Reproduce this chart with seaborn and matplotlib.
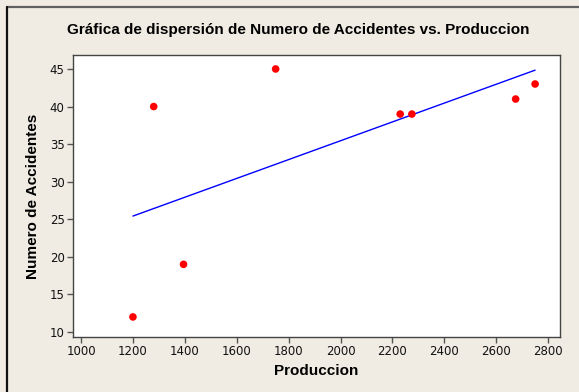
import matplotlib.pyplot as plt
import seaborn as sns
import pandas as pd
from matplotlib.lines import Line2D

produccion = [1200, 1280, 1395, 1750, 2230, 2275, 2675, 2750]
accidentes = [12, 40, 19, 45, 39, 39, 41, 43]
x_ticks = [1000, 1200, 1400, 1600, 1800, 2000, 2200, 2400, 2600, 2800]
y_ticks = [10, 15, 20, 25, 30, 35, 40, 45]

df = pd.DataFrame({'Produccion': produccion, 'Numero de Accidentes': accidentes})

sns.set_theme(style="ticks")
plt.rcParams['font.family'] = ['DejaVu Sans']
plt.rcParams['text.color'] = 'black'
plt.rcParams['axes.labelcolor'] = 'black'

bg = '#F0ECE3'
lab_font = ['Liberation Sans', 'DejaVu Sans']
fig = plt.figure(figsize=(5.79, 3.92), dpi=100, facecolor=bg)
ax = fig.add_axes([0.1261, 0.1403, 0.8411, 0.7194])
ax.set_facecolor('white')

# fitted line, then the points on top
sns.regplot(data=df, x='Produccion', y='Numero de Accidentes', ax=ax, scatter=False,
            ci=None, line_kws=dict(color='#0000FF', lw=1.0))
sns.scatterplot(data=df, x='Produccion', y='Numero de Accidentes', ax=ax,
                color='#FF0000', edgecolor='none', s=30, zorder=3)

ax.set_xlim(969, 2846)
ax.set_ylim(9.33, 46.86)
ax.set_xticks(x_ticks)
ax.set_yticks(y_ticks)
ax.tick_params(axis='both', labelsize=8.5, colors='#555555', labelcolor='#111111',
               length=4, width=1, direction='out', pad=2)

for s in ax.spines.values():
    s.set_color('#444444')
    s.set_linewidth(1.0)

ax.set_xlabel('Produccion', fontsize=11, fontweight='bold', labelpad=4, family=lab_font)
ax.set_ylabel('Numero de Accidentes', fontsize=11, fontweight='bold', labelpad=7, family=lab_font)
fig.text(0.5155, 0.923, 'Gráfica de dispersión de Numero de Accidentes vs. Produccion',
         ha='center', va='center', fontsize=11, fontweight='bold', family=lab_font)

# outer frame lines (top and left)
fig.add_artist(Line2D([7 / 579, 1], [1 - 7 / 392, 1 - 7 / 392], color='#606060', lw=1.6,
                      transform=fig.transFigure))
fig.add_artist(Line2D([7 / 579, 7 / 579], [0, 1 - 7 / 392], color='#111111', lw=1.6,
                      transform=fig.transFigure))

fig.savefig('out.png', dpi=100, facecolor=bg)
